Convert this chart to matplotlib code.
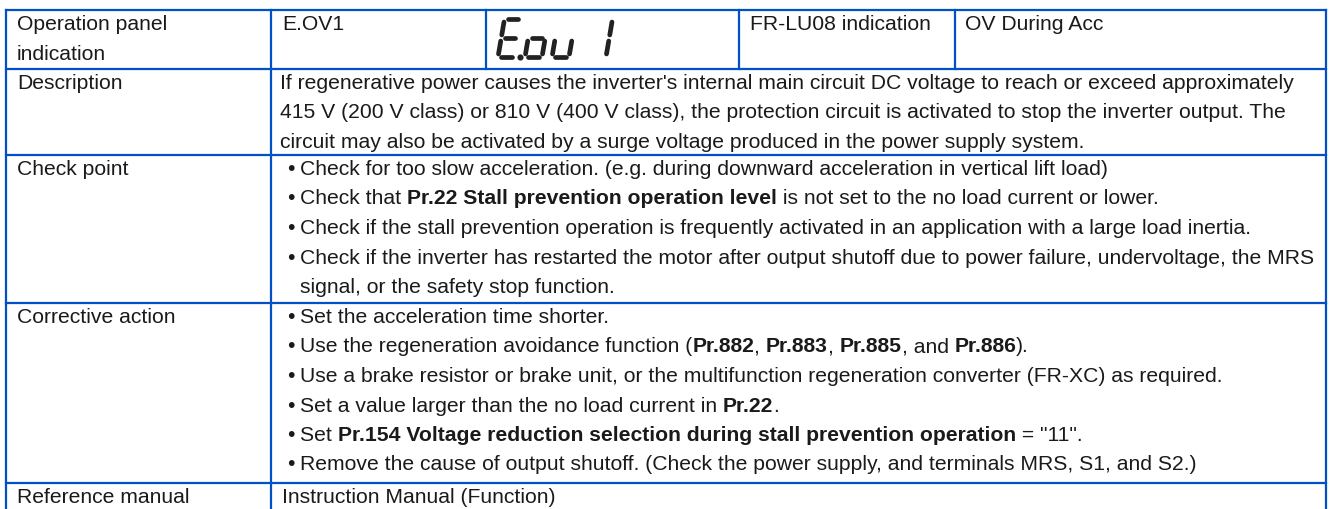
import matplotlib
matplotlib.use("Agg")
import matplotlib.pyplot as plt
from matplotlib.font_manager import FontProperties

# ── Conteúdo da tabela ─────────────────────────────────────────────────────
ROW_LABELS = [
    ["Operation panel", "indication"],
    ["Description"],
    ["Check point"],
    ["Corrective action"],
    ["Reference manual"],
]
PANEL_CODE = "E.OV1"
LU08_LABEL = "FR-LU08 indication"
LU08_TEXT = "OV During Acc"

DESCRIPTION = [
    "If regenerative power causes the inverter's internal main circuit DC voltage to reach or exceed approximately",
    "415 V (200 V class) or 810 V (400 V class), the protection circuit is activated to stop the inverter output. The",
    "circuit may also be activated by a surge voltage produced in the power supply system.",
]

# "**" marca trechos em negrito; cada item pode ter linhas de continuação
CHECK_POINTS = [
    ["Check for too slow acceleration. (e.g. during downward acceleration in vertical lift load)"],
    ["Check that **Pr.22 Stall prevention operation level** is not set to the no load current or lower."],
    ["Check if the stall prevention operation is frequently activated in an application with a large load inertia."],
    ["Check if the inverter has restarted the motor after output shutoff due to power failure, undervoltage, the MRS",
     "signal, or the safety stop function."],
]

CORRECTIVE = [
    ["Set the acceleration time shorter."],
    ["Use the regeneration avoidance function (**Pr.882**, **Pr.883**, **Pr.885**, and **Pr.886**)."],
    ["Use a brake resistor or brake unit, or the multifunction regeneration converter (FR-XC) as required."],
    ["Set a value larger than the no load current in **Pr.22**."],
    ["Set **Pr.154 Voltage reduction selection during stall prevention operation** = \"11\"."],
    ["Remove the cause of output shutoff. (Check the power supply, and terminals MRS, S1, and S2.)"],
]

REFERENCE = "Instruction Manual (Function)"

# display de 7 segmentos "E.ou 1"
SEG_DIGITS = ["adefg", "cdeg", "cde", "", "ef"]
SEG_DOT_AFTER = 0

# ── Layout (pixels) ────────────────────────────────────────────────────────
W, H, DPI = 1329, 509, 100
COL_X = [6, 271, 486, 739, 955, 1326]
ROW_Y = [10, 68.5, 155, 303, 483]
LINE_H = 29.5
FIRST = 14.5
BORDER = "#0050c8"
INK = "#1a1a1a"
SEG_INK = "#222222"

fig = plt.figure(figsize=(W / DPI, H / DPI), dpi=DPI)
ax = fig.add_axes([0, 0, 1, 1])
ax.set_xlim(0, W)
ax.set_ylim(H, 0)
ax.axis("off")
r = fig.canvas.get_renderer()

regular = FontProperties(family="Liberation Sans", size=10)


def text_w(s, prop):
    w1, _, _ = r.get_text_width_height_descent("|" + s + "|", prop, False)
    w2, _, _ = r.get_text_width_height_descent("||", prop, False)
    return w1 - w2


# tamanho de fonte ajustado para a largura da primeira linha da descrição
FS = 10 * 1022 / text_w(DESCRIPTION[0], regular)
regular = FontProperties(family="Liberation Sans", size=FS)
bold = FontProperties(family="Liberation Sans", size=FS, weight="bold")


def linha_rica(x, y, s):
    partes = s.split("**")
    for i, p in enumerate(partes):
        if not p:
            continue
        prop = bold if i % 2 else regular
        ax.text(x, y, p, fontproperties=prop, color=INK, va="center", ha="left")
        x += text_w(p, prop)


def linha_y(row, k):
    return ROW_Y[row] + FIRST + k * LINE_H


def bullets(row, itens):
    k = 0
    for item in itens:
        ax.text(290.5, linha_y(row, k), "•", fontproperties=regular, color=INK,
                va="center", ha="center")
        for s in item:
            linha_rica(300, linha_y(row, k), s)
            k += 1


# bordas
lw = 1.6
for y in ROW_Y:
    ax.plot([COL_X[0], COL_X[-1]], [y, y], color=BORDER, lw=lw, solid_capstyle="projecting")
for x in (COL_X[0], COL_X[1], COL_X[-1]):
    ax.plot([x, x], [ROW_Y[0], H + 5], color=BORDER, lw=lw)
for x in COL_X[2:5]:
    ax.plot([x, x], [ROW_Y[0], ROW_Y[1]], color=BORDER, lw=lw)

# rótulos da primeira coluna
for row, linhas in enumerate(ROW_LABELS):
    for k, s in enumerate(linhas):
        ax.text(17, linha_y(row, k), s, fontproperties=regular, color=INK, va="center")

# primeira linha
ax.text(282, linha_y(0, 0), PANEL_CODE, fontproperties=regular, color=INK, va="center")
ax.text(750, linha_y(0, 0), LU08_LABEL, fontproperties=regular, color=INK, va="center")
ax.text(965, linha_y(0, 0), LU08_TEXT, fontproperties=regular, color=INK, va="center")

# display 7 segmentos
SEG = {
    "a": ((0, 2), (1, 2)), "b": ((1, 2), (1, 1)), "c": ((1, 1), (1, 0)),
    "d": ((0, 0), (1, 0)), "e": ((0, 0), (0, 1)), "f": ((0, 1), (0, 2)),
    "g": ((0, 1), (1, 1)),
}
DW, DH, PITCH, SLANT = 17, 38, 27, 6.5
X0, YB = 498, 57
GAP_H, GAP_V = 0.2, 0.16


def seg_xy(x0, u, v):
    return x0 + u * DW + SLANT * v / 2, YB - v / 2 * DH


for i, segs in enumerate(SEG_DIGITS):
    x0 = X0 + i * PITCH
    for s in segs:
        (u1, v1), (u2, v2) = SEG[s]
        if u1 != u2:
            a, b = (u1 + GAP_H, v1), (u2 - GAP_H, v2)
        else:
            sgn = 1 if v2 > v1 else -1
            a, b = (u1, v1 + sgn * GAP_V), (u2, v2 - sgn * GAP_V)
        p1 = seg_xy(x0, *a)
        p2 = seg_xy(x0, *b)
        ax.plot([p1[0], p2[0]], [p1[1], p2[1]], color=SEG_INK, lw=3.4,
                solid_capstyle="round")
    if i == SEG_DOT_AFTER:
        dx, dy = seg_xy(x0, 1.3, 0.0)
        ax.plot([dx], [dy], marker="o", ms=3.4, color=SEG_INK)

# descrição
for k, s in enumerate(DESCRIPTION):
    linha_rica(280, linha_y(1, k), s)

bullets(2, CHECK_POINTS)
bullets(3, CORRECTIVE)

ax.text(282, linha_y(4, 0), REFERENCE, fontproperties=regular, color=INK, va="center")

fig.savefig("out.png", dpi=DPI)
